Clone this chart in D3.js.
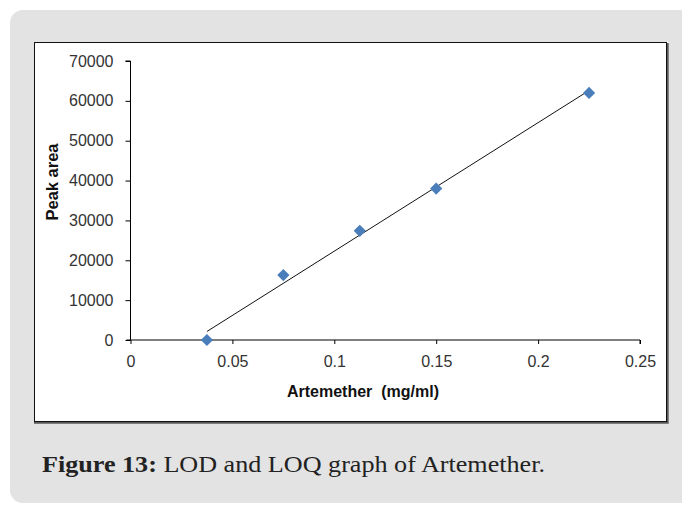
<!DOCTYPE html>
<html>
<head>
<meta charset="utf-8">
<script src="https://cdn.jsdelivr.net/npm/d3@7"></script>
<style>
  html, body { margin: 0; padding: 0; background: #ffffff; }
  svg { display: block; }
  text { white-space: pre; }
</style>
</head>
<body>
<svg id="chart" width="682" height="506"></svg>
<script>
// Calibration data for Artemether (concentration vs. peak area)
const concentrations = [0.0375, 0.075, 0.1125, 0.15, 0.225];
const peakAreas = [0, 16300, 27400, 38000, 62000];
const xTicks = [0, 0.05, 0.1, 0.15, 0.2, 0.25];
const yTicks = [0, 10000, 20000, 30000, 40000, 50000, 60000, 70000];
const xTitle = "Artemether  (mg/ml)";
const yTitle = "Peak area";
const captionBold = "Figure 13:";
const captionText = " LOD and LOQ graph of Artemether.";

const svg = d3.select("#chart");

// Grey figure panel
svg.append("rect")
  .attr("x", 10).attr("y", 10)
  .attr("width", 700).attr("height", 493)
  .attr("rx", 13).attr("ry", 13)
  .attr("fill", "#e3e3e3");

// Chart frame: white area, dark shadow on right/bottom, thin black border
svg.append("rect")
  .attr("x", 34).attr("y", 42)
  .attr("width", 635).attr("height", 381)
  .attr("fill", "#ffffff");
svg.append("path")
  .attr("d", "M667.5,43 V422.5 H34")
  .attr("fill", "none").attr("stroke", "#5a5a5a").attr("stroke-width", 2.5);
svg.append("rect")
  .attr("x", 34.5).attr("y", 42.5)
  .attr("width", 632).attr("height", 379)
  .attr("fill", "none").attr("stroke", "#111").attr("stroke-width", 1);

// Scales
const x = d3.scaleLinear().domain([0, 0.25]).range([130.5, 640]);
const y = d3.scaleLinear().domain([0, 70000]).range([340, 61]);

const tickFont = "'Liberation Sans', Arial, sans-serif";

// Y axis
const yAxis = svg.append("g")
  .attr("transform", `translate(${x(0)},0)`)
  .call(d3.axisLeft(y).tickValues(yTicks).tickSize(5).tickPadding(12)
    .tickFormat(d3.format("d")));
yAxis.select(".domain").attr("stroke", "#000").attr("d", `M-5,${y(70000)}H0V${y(0)}`);
yAxis.selectAll(".tick line").attr("stroke", "#000");
yAxis.selectAll(".tick text")
  .attr("font-family", tickFont).attr("font-size", 16).attr("fill", "#333");

// X axis
const xAxis = svg.append("g")
  .attr("transform", `translate(0,${y(0)})`)
  .call(d3.axisBottom(x).tickValues(xTicks).tickSize(4).tickPadding(12)
    .tickFormat(d => d === 0 ? "0" : String(d)));
xAxis.select(".domain").attr("stroke", "#000").attr("d", `M${x(0) - 4},0H${x(0.25)}V4`);
xAxis.selectAll(".tick line").attr("stroke", "#000");
xAxis.selectAll(".tick text")
  .attr("font-family", tickFont).attr("font-size", 16).attr("fill", "#333");

// Axis titles
svg.append("text")
  .attr("transform", "translate(58,182) rotate(-90)")
  .attr("text-anchor", "middle")
  .attr("font-family", tickFont).attr("font-weight", "bold")
  .attr("font-size", 16.5).attr("fill", "#111")
  .text(yTitle);

svg.append("text")
  .attr("x", 363).attr("y", 397)
  .attr("text-anchor", "middle")
  .attr("font-family", tickFont).attr("font-weight", "bold")
  .attr("font-size", 16).attr("fill", "#111")
  .text(xTitle);

// Least-squares trendline through the calibration points
const n = concentrations.length;
const mx = d3.mean(concentrations);
const my = d3.mean(peakAreas);
let sxy = 0, sxx = 0;
for (let i = 0; i < n; i++) {
  sxy += (concentrations[i] - mx) * (peakAreas[i] - my);
  sxx += (concentrations[i] - mx) ** 2;
}
const slope = sxy / sxx;
const intercept = my - slope * mx;
const xMin = d3.min(concentrations), xMax = d3.max(concentrations);

svg.append("line")
  .attr("x1", x(xMin)).attr("y1", y(slope * xMin + intercept))
  .attr("x2", x(xMax)).attr("y2", y(slope * xMax + intercept))
  .attr("stroke", "#111").attr("stroke-width", 1);

// Diamond markers
const diamond = d3.symbol().type(d3.symbolDiamond2).size(95);
svg.append("g").selectAll("path")
  .data(concentrations.map((c, i) => [c, peakAreas[i]]))
  .join("path")
  .attr("d", diamond)
  .attr("transform", d => `translate(${x(d[0])},${y(d[1])})`)
  .attr("fill", "#4a7ebb");

// Caption
const cap = svg.append("text")
  .attr("x", 42).attr("y", 472)
  .attr("textLength", 503).attr("lengthAdjust", "spacingAndGlyphs")
  .attr("font-family", "'Liberation Serif', 'Times New Roman', serif")
  .attr("font-size", 23).attr("fill", "#222");
cap.append("tspan").attr("font-weight", "bold").text(captionBold);
cap.append("tspan").text(captionText);
</script>
</body>
</html>
